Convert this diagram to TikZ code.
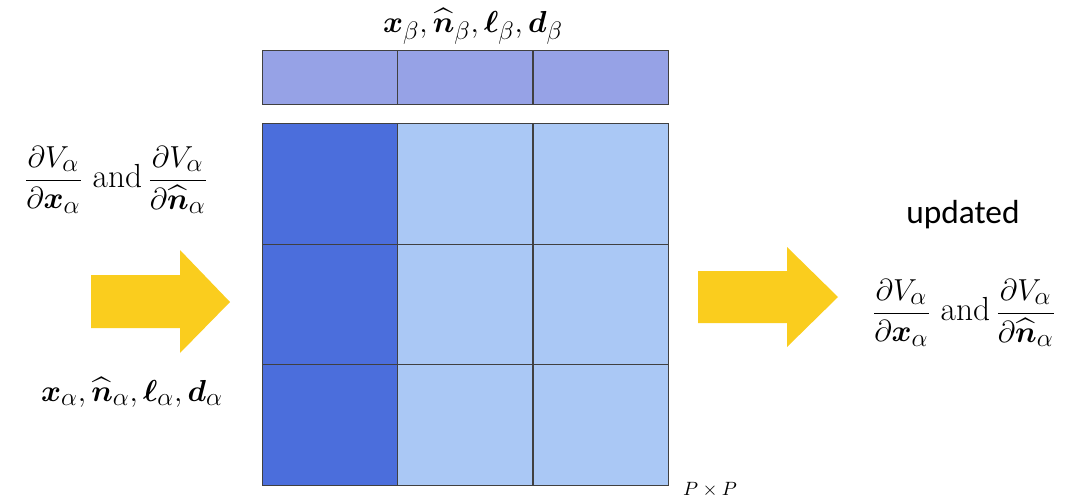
\documentclass[tikz,border=0pt]{standalone}
\usepackage{amsmath,amssymb,bm}
\usepackage{fontspec}
\newfontfamily\calib{Carlito}
\usepackage{tikz}
\usetikzlibrary{positioning}

\definecolor{darkcell}{RGB}{75,110,220}
\definecolor{lightcell}{RGB}{170,200,245}
\definecolor{barcell}{RGB}{150,162,230}
\definecolor{arrowyellow}{RGB}{250,205,30}

\newcommand{\dfracs}{$\displaystyle\frac{\partial V_\alpha}{\partial \bm{x}_\alpha}$ and\,$\displaystyle\frac{\partial V_\alpha}{\partial \widehat{\bm{n}}_\alpha}$}

\begin{document}
\begin{tikzpicture}[x=0.02cm, y=-0.02cm,
cell/.style={rectangle, draw=black!75, line width=0.4pt, minimum width=2.7cm, minimum height=2.41cm, inner sep=0pt},
barbox/.style={rectangle, draw=black!75, line width=0.4pt, fill=barcell, minimum width=2.7cm, minimum height=1.08cm, inner sep=0pt},
lbl/.style={font=\fontsize{19}{22}\selectfont, inner sep=0pt, align=center},
fat/.style={fill=arrowyellow, draw=none} ]
\useasboundingbox (0,0) rectangle (1073,504);
% top row of beta entries
\node[barbox] (b1) at (329.5,77) {};
\node[barbox, right=0pt of b1] (b2) {};
\node[barbox, right=0pt of b2] (b3) {};
\node[lbl] (beta) at (473,26) {$\bm{x}_\beta, \widehat{\bm{n}}_\beta, \bm{\ell}_\beta, \bm{d}_\beta$};
% P x P matrix
\foreach \r/\y in {1/184, 2/304.5, 3/425} {
  \node[cell, fill=darkcell] (m\r1) at (329.5,\y) {};
  \node[cell, fill=lightcell, right=0pt of m\r1] (m\r2) {};
  \node[cell, fill=lightcell, right=0pt of m\r2] (m\r3) {};
}
\node[font=\fontsize{11}{13}\selectfont, inner sep=0pt] (size) at (710,490) {$P\times P$};
% left side: input
\node[lbl] (din) at (116,180) {\dfracs};
\node[lbl] (alpha) at (132,392) {$\bm{x}_\alpha, \widehat{\bm{n}}_\alpha, \bm{\ell}_\alpha, \bm{d}_\alpha$};
\fill[fat] (91,275) -- (180,275) -- (180,250) -- (230,302) -- (180,353) -- (180,328) -- (91,328) -- cycle;
% right side: output
\fill[fat] (698,271) -- (787,271) -- (787,247) -- (838,297) -- (787,347) -- (787,323) -- (698,323) -- cycle;
\node[font=\calib\fontsize{19}{22}\selectfont, inner sep=0pt] (upd) at (963,215) {updated};
\node[lbl] (dout) at (964,313) {\dfracs};
\end{tikzpicture}
\end{document}
